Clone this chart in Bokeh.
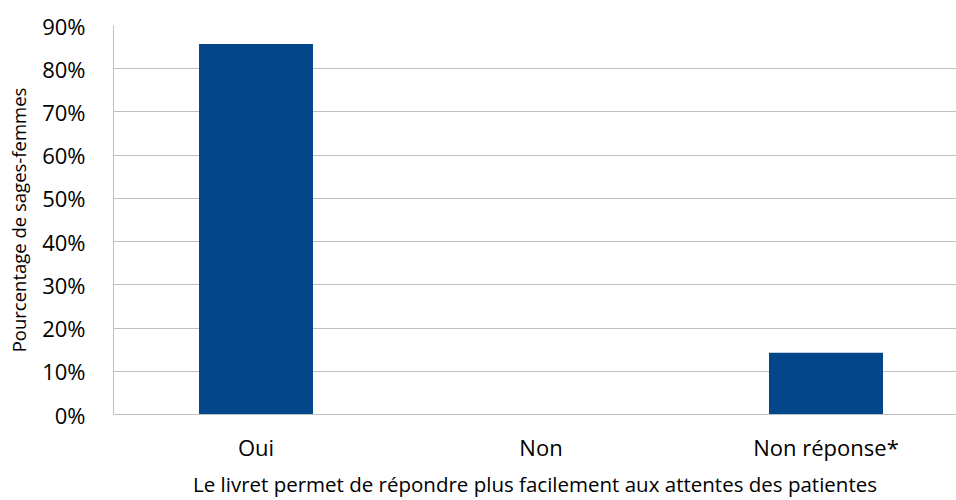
from bokeh.plotting import figure
from bokeh.models import ColumnDataSource, FixedTicker, Range1d
from bokeh.embed import file_html
from bokeh.resources import INLINE

categories = ["Oui", "Non", "Non réponse*"]
values = [85.7, 0.0, 14.3]
y_ticks = [0, 10, 20, 30, 40, 50, 60, 70, 80, 90]
y_tick_labels = [f"{t}%" for t in y_ticks]
x_title = "Le livret permet de répondre plus facilement aux attentes des patientes"
y_title = "Pourcentage de sages-femmes"

positions = [i + 0.5 for i in range(len(categories))]
src = ColumnDataSource(dict(x=positions, top=values, cat=categories))

FONT = "Open Sans"
W, H = 956, 500
LEFT, TOP, BOTTOM = 113, 25, 86
p = figure(width=W, height=H, output_backend="svg", toolbar_location=None,
           x_range=Range1d(0, (W - LEFT) / 285), y_range=Range1d(0, 90))
p.min_border_left = LEFT
p.min_border_right = 0
p.min_border_top = TOP
p.min_border_bottom = BOTTOM
p.outline_line_color = None
p.background_fill_color = "white"
p.border_fill_color = "white"

p.vbar(x="x", top="top", width=0.4, source=src, fill_color="#03468A", line_color=None)

# y axis
p.yaxis.ticker = FixedTicker(ticks=y_ticks)
p.yaxis.major_label_overrides = {t: l for t, l in zip(y_ticks, y_tick_labels)}
p.yaxis.major_tick_line_color = None
p.yaxis.minor_tick_line_color = None
p.yaxis.axis_line_color = "#BFBFBF"
p.yaxis.major_label_text_font = FONT
p.yaxis.major_label_text_font_size = "22px"
p.yaxis.major_label_text_color = "#000000"
p.yaxis.major_label_standoff = 22
p.yaxis.axis_label = y_title
p.yaxis.axis_label_text_font = FONT
p.yaxis.axis_label_text_font_size = "18.5px"
p.yaxis.axis_label_text_font_style = "normal"
p.yaxis.axis_label_text_color = "#000000"
p.yaxis.axis_label_standoff = 8

# x axis
p.xaxis.ticker = FixedTicker(ticks=positions)
p.xaxis.major_label_overrides = {pos: c for pos, c in zip(positions, categories)}
p.xaxis.major_tick_line_color = None
p.xaxis.minor_tick_line_color = None
p.xaxis.axis_line_color = "#BFBFBF"
p.xaxis.major_label_text_font = FONT
p.xaxis.major_label_text_font_size = "22px"
p.xaxis.major_label_text_color = "#000000"
p.xaxis.major_label_standoff = 11
p.xaxis.axis_label = x_title
p.xaxis.axis_label_text_font = FONT
p.xaxis.axis_label_text_font_size = "20.5px"
p.xaxis.axis_label_text_font_style = "normal"
p.xaxis.axis_label_text_color = "#000000"
p.xaxis.axis_label_standoff = 5

p.xgrid.grid_line_color = None
p.ygrid.grid_line_color = "#BFBFBF"
p.ygrid.grid_line_width = 1

open("out.html", "w").write(file_html(p, INLINE))
